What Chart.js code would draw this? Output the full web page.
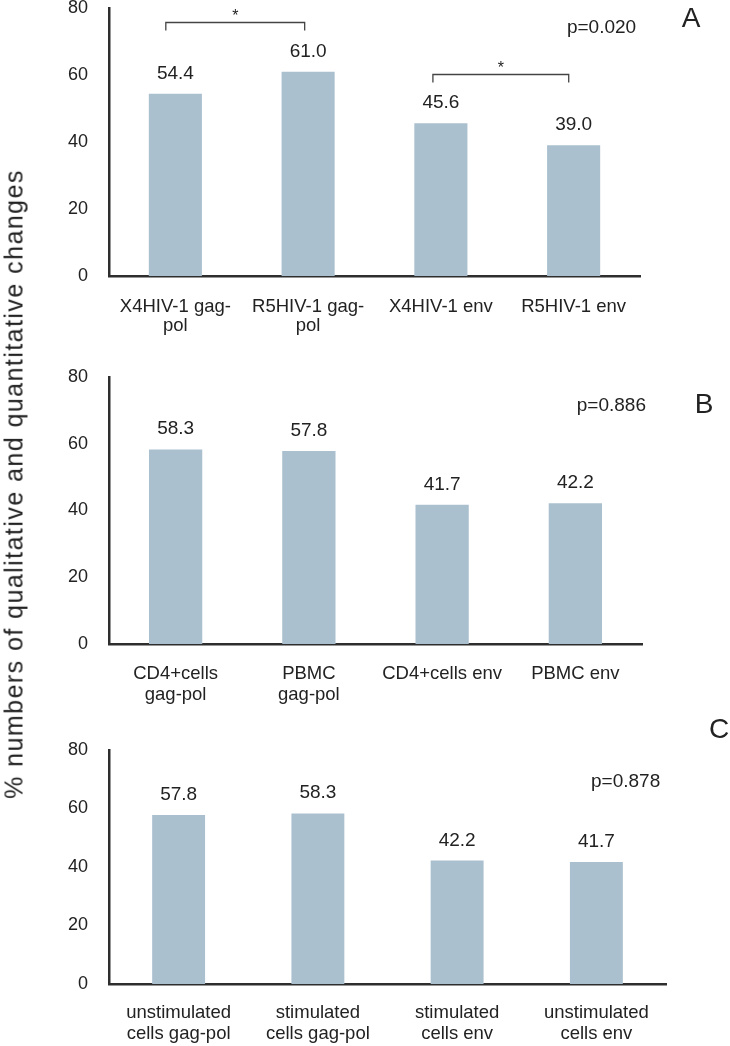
<!DOCTYPE html>
<html><head><meta charset="utf-8">
<script src="https://cdn.jsdelivr.net/npm/chart.js@4.4.1/dist/chart.umd.min.js"></script>
<style>
html,body{margin:0;padding:0;background:#fff;}
body{width:730px;height:1046px;position:relative;overflow:hidden;font-family:"Liberation Sans",Arial,sans-serif;color:#222;}
.wrap{position:absolute;left:0;width:730px;}
canvas{display:block;}
#ytitle{position:absolute;left:14px;top:484px;transform:translate(-50%,-50%) rotate(-90deg);white-space:nowrap;font-size:25px;letter-spacing:1.45px;color:#222;}
.letter{position:absolute;font-size:28px;transform:translate(-50%,-50%);color:#222;line-height:1;}
</style></head><body>
<div class="wrap" style="top:0;height:345px"><canvas id="ca" width="730" height="345"></canvas></div>
<div class="wrap" style="top:345px;height:370px"><canvas id="cb" width="730" height="370"></canvas></div>
<div class="wrap" style="top:715px;height:331px"><canvas id="cc" width="730" height="331"></canvas></div>
<div id="ytitle">% numbers of qualitative and quantitative changes</div>
<div class="letter" id="la" style="left:691px;top:18px">A</div>
<div class="letter" id="lb" style="left:704px;top:404px">B</div>
<div class="letter" id="lc" style="left:719px;top:729px">C</div>
<script>
// ---- data ----
const categoriesA = [["X4HIV-1 gag-","pol"],["R5HIV-1 gag-","pol"],"X4HIV-1 env","R5HIV-1 env"];
const valuesA = [54.4, 61.0, 45.6, 39.0];
const categoriesB = [["CD4+cells","gag-pol"],["PBMC","gag-pol"],"CD4+cells env","PBMC env"];
const valuesB = [58.3, 57.8, 41.7, 42.2];
const categoriesC = [["unstimulated","cells gag-pol"],["stimulated","cells gag-pol"],["stimulated","cells env"],["unstimulated","cells env"]];
const valuesC = [57.8, 58.3, 42.2, 41.7];
const yTicks = [0, 20, 40, 60, 80];
const pValues = ["p=0.020", "p=0.886", "p=0.878"];
const panelLetters = ["A", "B", "C"];
const bracketsA = [{from:0, to:1, level:75.8, label:"*"}, {from:2, to:3, level:60.3, label:"*"}];

const FONT = "'Liberation Sans', Arial, sans-serif";
const TEXT = '#222';
const BAR = '#abc0cf';
const AXIS = '#2e2e2e';

document.getElementById('la').textContent = panelLetters[0];
document.getElementById('lb').textContent = panelLetters[1];
document.getElementById('lc').textContent = panelLetters[2];

const annot = {
  id: 'annot',
  afterDatasetsDraw(chart, args, opts) {
    const ctx = chart.ctx;
    const xs = chart.scales.x, ys = chart.scales.y;
    const meta = chart.getDatasetMeta(0);
    ctx.save();
    ctx.fillStyle = TEXT;
    ctx.font = `19px ${FONT}`;
    ctx.textAlign = 'center';
    ctx.textBaseline = 'alphabetic';
    meta.data.forEach((bar, i) => {
      const v = chart.data.datasets[0].data[i];
      ctx.fillText(v.toFixed(1), bar.x, bar.y - 15);
    });
    const cw = xs.getPixelForValue(1) - xs.getPixelForValue(0);
    (opts.brackets || []).forEach((b, k) => {
      const off = opts.bracketOffsets[k];
      const x1 = xs.getPixelForValue(b.from) + off[0] * cw;
      const x2 = xs.getPixelForValue(b.to) + off[1] * cw;
      const y = Math.round(ys.getPixelForValue(b.level)) + 0.5;
      ctx.strokeStyle = '#444';
      ctx.lineWidth = 1.3;
      ctx.beginPath();
      ctx.moveTo(x1, y + 8); ctx.lineTo(x1, y); ctx.lineTo(x2, y); ctx.lineTo(x2, y + 8);
      ctx.stroke();
      ctx.font = `16px ${FONT}`;
      ctx.fillText(b.label, (x1 + x2) / 2, y - 2);
    });
    if (opts.p) {
      ctx.font = `19px ${FONT}`;
      ctx.textBaseline = 'middle';
      ctx.fillText(opts.p.text, xs.getPixelForValue(opts.p.x), ys.getPixelForValue(opts.p.y));
    }
    ctx.restore();
  }
};

function makeChart(id, labels, values, cfg) {
  return new Chart(document.getElementById(id), {
    type: 'bar',
    data: { labels: labels, datasets: [{ data: values, backgroundColor: BAR, borderWidth: 0,
      barPercentage: cfg.barPct, categoryPercentage: 1 }] },
    options: {
      responsive: false, animation: false, devicePixelRatio: 1,
      layout: { padding: { top: cfg.top, right: cfg.right, left: 0, bottom: 0 } },
      plugins: { legend: { display: false }, tooltip: { enabled: false },
        annot: { brackets: cfg.brackets, bracketOffsets: cfg.bracketOffsets, p: cfg.p } },
      scales: {
        x: {
          grid: { display: false, drawTicks: false },
          border: { display: true, color: AXIS, width: 2.5 },
          ticks: { color: TEXT, font: { family: FONT, size: 18.5, lineHeight: cfg.lh }, padding: cfg.xpad, maxRotation: 0, autoSkip: false },
          afterFit: s => { s.height = cfg.xh; s.paddingLeft = 0; s.paddingRight = 0; }
        },
        y: {
          min: 0, max: 80,
          grid: { display: false, drawTicks: false },
          border: { display: true, color: AXIS, width: 2.5 },
          ticks: { color: TEXT, font: { family: FONT, size: 18 }, padding: 21 },
          afterBuildTicks: s => { s.ticks = yTicks.map(v => ({ value: v })); },
          afterFit: s => { s.width = 109; s.paddingTop = 0; s.paddingBottom = 0; }
        }
      }
    },
    plugins: [annot]
  });
}

makeChart('ca', categoriesA, valuesA, { top: 8, right: 90, xh: 69, xpad: 22, lh: 1.0, barPct: 0.4,
  brackets: bracketsA, bracketOffsets: [[-0.072, -0.026], [-0.06, -0.037]],
  p: { text: pValues[0], x: 3.21, y: 74 } });
makeChart('cb', categoriesB, valuesB, { top: 32, right: 88, xh: 71, xpad: 20, lh: 1.1, barPct: 0.4,
  brackets: [], bracketOffsets: [], p: { text: pValues[1], x: 3.27, y: 71.3 } });
makeChart('cc', categoriesC, valuesC, { top: 35, right: 64, xh: 62, xpad: 19, lh: 1.1, barPct: 0.38,
  brackets: [], bracketOffsets: [], p: { text: pValues[2], x: 3.21, y: 69.1 } });
</script>
</body></html>
